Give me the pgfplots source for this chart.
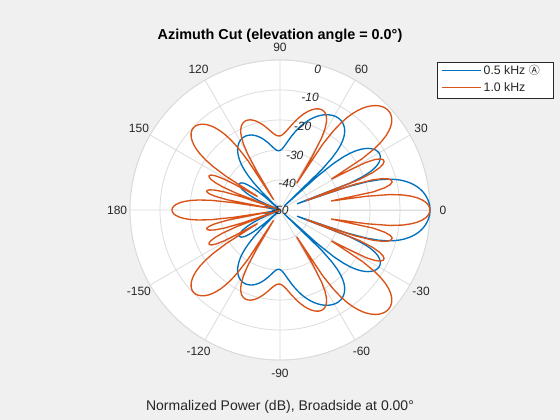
\documentclass[border=0pt]{standalone}
\usepackage{pgfplots}
\pgfplotsset{compat=1.18}
\usepackage{pgfplotstable}
\usepgfplotslibrary{polar}
\usepackage{fontspec}
\setmainfont{Liberation Sans}
\newfontfamily\cjk{Noto Sans CJK JP}
\definecolor{mblue}{RGB}{0,114,189}
\definecolor{mred}{RGB}{217,83,25}
\definecolor{figbg}{RGB}{240,240,240}
\definecolor{gridc}{RGB}{220,220,220}
\definecolor{txt}{RGB}{38,38,38}
% azimuth (deg), 0.5 kHz (dB), 1.0 kHz (dB)
\pgfplotstableread{
a b r
-180 -50 -13.98
-179 -50 -14.11
-178 -50 -14.53
-177 -50 -15.25
-176 -50 -16.33
-175 -50 -17.82
-174 -50 -19.83
-173 -50 -22.62
-172 -48.65 -26.76
-171 -47.29 -34.32
-170 -46.27 -46.35
-169 -45.54 -31.96
-168 -45.11 -27.72
-167 -44.98 -25.70
-166 -45.17 -24.84
-165 -45.75 -24.84
-164 -46.82 -25.62
-163 -48.58 -27.33
-162 -50 -30.43
-161 -50 -36.68
-160 -50 -50
-159 -50 -34.46
-158 -48.50 -29.20
-157 -44.85 -26.36
-156 -42.22 -24.72
-155 -40.20 -23.89
-154 -38.59 -23.75
-153 -37.29 -24.35
-152 -36.25 -25.87
-151 -35.42 -28.92
-150 -34.79 -36.04
-149 -34.33 -41.27
-148 -34.04 -28.70
-147 -33.93 -23.42
-146 -33.99 -20.00
-145 -34.24 -17.52
-144 -34.71 -15.61
-143 -35.43 -14.12
-142 -36.47 -12.93
-141 -37.95 -12.01
-140 -40.09 -11.30
-139 -43.42 -10.78
-138 -49.83 -10.43
-137 -50 -10.24
-136 -46.49 -10.21
-135 -40.83 -10.32
-134 -37.33 -10.57
-133 -34.78 -10.97
-132 -32.78 -11.51
-131 -31.14 -12.22
-130 -29.76 -13.10
-129 -28.61 -14.17
-128 -27.63 -15.48
-127 -26.77 -17.07
-126 -26.02 -19.04
-125 -25.37 -21.57
-124 -24.83 -25.04
-123 -24.36 -30.54
-122 -23.97 -45.95
-121 -23.62 -35.01
-120 -23.35 -28.31
-119 -23.15 -24.90
-118 -23.00 -22.73
-117 -22.89 -21.23
-116 -22.84 -20.15
-115 -22.82 -19.38
-114 -22.87 -18.84
-113 -22.95 -18.47
-112 -23.07 -18.24
-111 -23.24 -18.14
-110 -23.43 -18.15
-109 -23.69 -18.25
-108 -23.97 -18.42
-107 -24.28 -18.67
-106 -24.63 -18.99
-105 -25.00 -19.35
-104 -25.42 -19.77
-103 -25.86 -20.23
-102 -26.32 -20.73
-101 -26.79 -21.25
-100 -27.27 -21.79
-99 -27.76 -22.34
-98 -28.25 -22.88
-97 -28.71 -23.41
-96 -29.14 -23.91
-95 -29.52 -24.35
-94 -29.84 -24.74
-93 -30.08 -25.04
-92 -30.22 -25.23
-91 -30.24 -25.32
-90 -30.15 -25.28
-89 -29.94 -25.12
-88 -29.61 -24.83
-87 -29.17 -24.43
-86 -28.62 -23.93
-85 -28.00 -23.34
-84 -27.32 -22.69
-83 -26.58 -22.00
-82 -25.82 -21.27
-81 -25.02 -20.52
-80 -24.23 -19.77
-79 -23.43 -19.02
-78 -22.65 -18.30
-77 -21.88 -17.61
-76 -21.13 -16.94
-75 -20.40 -16.32
-74 -19.71 -15.76
-73 -19.05 -15.24
-72 -18.41 -14.79
-71 -17.81 -14.41
-70 -17.24 -14.12
-69 -16.72 -13.91
-68 -16.23 -13.81
-67 -15.78 -13.84
-66 -15.36 -14.00
-65 -14.99 -14.35
-64 -14.66 -14.92
-63 -14.38 -15.80
-62 -14.14 -17.11
-61 -13.95 -19.08
-60 -13.81 -22.28
-59 -13.72 -28.80
-58 -13.70 -39.53
-57 -13.74 -23.93
-56 -13.85 -18.24
-55 -14.02 -14.58
-54 -14.30 -11.85
-53 -14.66 -9.69
-52 -15.14 -7.90
-51 -15.74 -6.40
-50 -16.51 -5.14
-49 -17.48 -4.07
-48 -18.71 -3.18
-47 -20.30 -2.45
-46 -22.43 -1.86
-45 -25.52 -1.43
-44 -30.75 -1.14
-43 -48.02 -0.99
-42 -33.20 -1.00
-41 -26.34 -1.17
-40 -22.53 -1.51
-39 -19.92 -2.04
-38 -17.96 -2.80
-37 -16.42 -3.81
-36 -15.19 -5.14
-35 -14.19 -6.88
-34 -13.41 -9.20
-33 -12.80 -12.45
-32 -12.34 -17.58
-31 -12.05 -29.99
-30 -11.91 -24.60
-29 -11.93 -17.34
-28 -12.12 -14.14
-27 -12.51 -12.48
-26 -13.13 -11.74
-25 -14.03 -11.73
-24 -15.33 -12.43
-23 -17.20 -13.96
-22 -20.05 -16.67
-21 -25.13 -21.80
-20 -43.96 -40.85
-19 -26.50 -23.79
-18 -19.56 -17.45
-17 -15.57 -14.24
-16 -12.73 -12.44
-15 -10.53 -11.55
-14 -8.74 -11.48
-13 -7.25 -12.26
-12 -5.98 -14.21
-11 -4.89 -18.37
-10 -3.95 -32.68
-9 -3.13 -20.60
-8 -2.44 -13.00
-7 -1.84 -8.81
-6 -1.34 -5.98
-5 -0.92 -3.92
-4 -0.59 -2.42
-3 -0.33 -1.32
-2 -0.15 -0.58
-1 -0.04 -0.14
0 0.00 0.00
1 -0.04 -0.14
2 -0.15 -0.58
3 -0.33 -1.32
4 -0.59 -2.42
5 -0.92 -3.92
6 -1.34 -5.98
7 -1.84 -8.81
8 -2.44 -13.00
9 -3.13 -20.60
10 -3.95 -32.68
11 -4.89 -18.37
12 -5.98 -14.21
13 -7.25 -12.26
14 -8.74 -11.48
15 -10.53 -11.55
16 -12.73 -12.44
17 -15.57 -14.24
18 -19.56 -17.45
19 -26.50 -23.79
20 -43.96 -40.85
21 -25.13 -21.80
22 -20.05 -16.67
23 -17.20 -13.96
24 -15.33 -12.43
25 -14.03 -11.73
26 -13.13 -11.74
27 -12.51 -12.48
28 -12.12 -14.14
29 -11.93 -17.34
30 -11.91 -24.60
31 -12.05 -29.99
32 -12.34 -17.58
33 -12.80 -12.45
34 -13.41 -9.20
35 -14.19 -6.88
36 -15.19 -5.14
37 -16.42 -3.81
38 -17.96 -2.80
39 -19.92 -2.04
40 -22.53 -1.51
41 -26.34 -1.17
42 -33.20 -1.00
43 -48.02 -0.99
44 -30.75 -1.14
45 -25.52 -1.43
46 -22.43 -1.86
47 -20.30 -2.45
48 -18.71 -3.18
49 -17.48 -4.07
50 -16.51 -5.14
51 -15.74 -6.40
52 -15.14 -7.90
53 -14.66 -9.69
54 -14.30 -11.85
55 -14.02 -14.58
56 -13.85 -18.24
57 -13.74 -23.93
58 -13.70 -39.53
59 -13.72 -28.80
60 -13.81 -22.28
61 -13.95 -19.08
62 -14.14 -17.11
63 -14.38 -15.80
64 -14.66 -14.92
65 -14.99 -14.35
66 -15.36 -14.00
67 -15.78 -13.84
68 -16.23 -13.81
69 -16.72 -13.91
70 -17.24 -14.12
71 -17.81 -14.41
72 -18.41 -14.79
73 -19.05 -15.24
74 -19.71 -15.76
75 -20.40 -16.32
76 -21.13 -16.94
77 -21.88 -17.61
78 -22.65 -18.30
79 -23.43 -19.02
80 -24.23 -19.77
81 -25.02 -20.52
82 -25.82 -21.27
83 -26.58 -22.00
84 -27.32 -22.69
85 -28.00 -23.34
86 -28.62 -23.93
87 -29.17 -24.43
88 -29.61 -24.83
89 -29.94 -25.12
90 -30.15 -25.28
91 -30.24 -25.32
92 -30.22 -25.23
93 -30.08 -25.04
94 -29.84 -24.74
95 -29.52 -24.35
96 -29.14 -23.91
97 -28.71 -23.41
98 -28.25 -22.88
99 -27.76 -22.34
100 -27.27 -21.79
101 -26.79 -21.25
102 -26.32 -20.73
103 -25.86 -20.23
104 -25.42 -19.77
105 -25.00 -19.35
106 -24.63 -18.99
107 -24.28 -18.67
108 -23.97 -18.42
109 -23.69 -18.25
110 -23.43 -18.15
111 -23.24 -18.14
112 -23.07 -18.24
113 -22.95 -18.47
114 -22.87 -18.84
115 -22.82 -19.38
116 -22.84 -20.15
117 -22.89 -21.23
118 -23.00 -22.73
119 -23.15 -24.90
120 -23.35 -28.31
121 -23.62 -35.01
122 -23.97 -45.95
123 -24.36 -30.54
124 -24.83 -25.04
125 -25.37 -21.57
126 -26.02 -19.04
127 -26.77 -17.07
128 -27.63 -15.48
129 -28.61 -14.17
130 -29.76 -13.10
131 -31.14 -12.22
132 -32.78 -11.51
133 -34.78 -10.97
134 -37.33 -10.57
135 -40.83 -10.32
136 -46.49 -10.21
137 -50 -10.24
138 -49.83 -10.43
139 -43.42 -10.78
140 -40.09 -11.30
141 -37.95 -12.01
142 -36.47 -12.93
143 -35.43 -14.12
144 -34.71 -15.61
145 -34.24 -17.52
146 -33.99 -20.00
147 -33.93 -23.42
148 -34.04 -28.70
149 -34.33 -41.27
150 -34.79 -36.04
151 -35.42 -28.92
152 -36.25 -25.87
153 -37.29 -24.35
154 -38.59 -23.75
155 -40.20 -23.89
156 -42.22 -24.72
157 -44.85 -26.36
158 -48.50 -29.20
159 -50 -34.46
160 -50 -50
161 -50 -36.68
162 -50 -30.43
163 -48.58 -27.33
164 -46.82 -25.62
165 -45.75 -24.84
166 -45.17 -24.84
167 -44.98 -25.70
168 -45.11 -27.72
169 -45.54 -31.96
170 -46.27 -46.35
171 -47.29 -34.32
172 -48.65 -26.76
173 -50 -22.62
174 -50 -19.83
175 -50 -17.82
176 -50 -16.33
177 -50 -15.25
178 -50 -14.53
179 -50 -14.11
180 -50 -13.98
}\pat
\begin{document}
\begin{tikzpicture}
\fill[figbg] (-280pt,-210pt) rectangle (280pt,210pt);
\fill[white] (0pt,0pt) circle (150pt);
\begin{polaraxis}[
  at={(0pt,0pt)}, anchor=center,
  scale only axis, width=300pt, height=300pt,
  ymin=0, ymax=50, xmin=0, xmax=360,
  xtick={0,30,...,330}, ytick={0,10,...,50},
  xticklabels={}, yticklabels={},
  grid=major,
  major grid style={gridc, line width=0.8pt},
  axis line style={gridc, line width=0.8pt},
  major tick length=0pt,
  clip=false,
]
\addplot[mblue, line width=1.35pt, no markers] table[x=a, y expr=\thisrow{b}+50] {\pat};
\addplot[mred, line width=1.35pt, no markers] table[x=a, y expr=\thisrow{r}+50] {\pat};
% angle labels
\foreach \ang/\lab in {0/0,30/30,60/60,90/90,120/120,150/150,180/180,210/-150,240/-120,270/-90,300/-60,330/-30}{
  \edef\temp{\noexpand\node[text=txt, font=\noexpand\fontsize{12}{14}\noexpand\selectfont] at (axis cs:\ang,54.3) {\lab};}
  \temp
}
% radial labels
\foreach \rr/\lab in {48.7/0,38.8/-10,29/-20,19/-30,9.2/-40}{
  \edef\temp{\noexpand\node[text=txt, font=\noexpand\itshape\noexpand\fontsize{12}{14}\noexpand\selectfont] at (axis cs:75,\rr) {\lab};}
  \temp
}
\node[text=txt, font=\itshape\fontsize{12}{14}\selectfont] at (axis cs:0,0) {-50};
\end{polaraxis}
% title and label
\node[anchor=base, font=\bfseries\fontsize{14.4}{16}\selectfont] at (0pt,170pt) {Azimuth Cut (elevation angle = 0.0°)};
\node[font=\fontsize{14}{16}\selectfont, text=txt] at (0pt,-197pt) {Normalized Power (dB), Broadside at 0.00°};
% legend
\draw[fill=white, draw=black!85, line width=0.6pt] (157pt,112pt) rectangle (273pt,148pt);
\draw[mblue, line width=1pt] (161.5pt,139.3pt) -- (201pt,139.3pt);
\draw[mred, line width=1pt] (161.5pt,122.7pt) -- (201pt,122.7pt);
\node[anchor=west, inner sep=0pt, font=\fontsize{12.3}{14}\selectfont, text=txt] at (203.5pt,139.3pt) {0.5 kHz {\cjk\fontsize{11}{12}\selectfont Ⓐ}};
\node[anchor=west, inner sep=0pt, font=\fontsize{12.3}{14}\selectfont, text=txt] at (203.5pt,122.7pt) {1.0 kHz};
\end{tikzpicture}
\end{document}
